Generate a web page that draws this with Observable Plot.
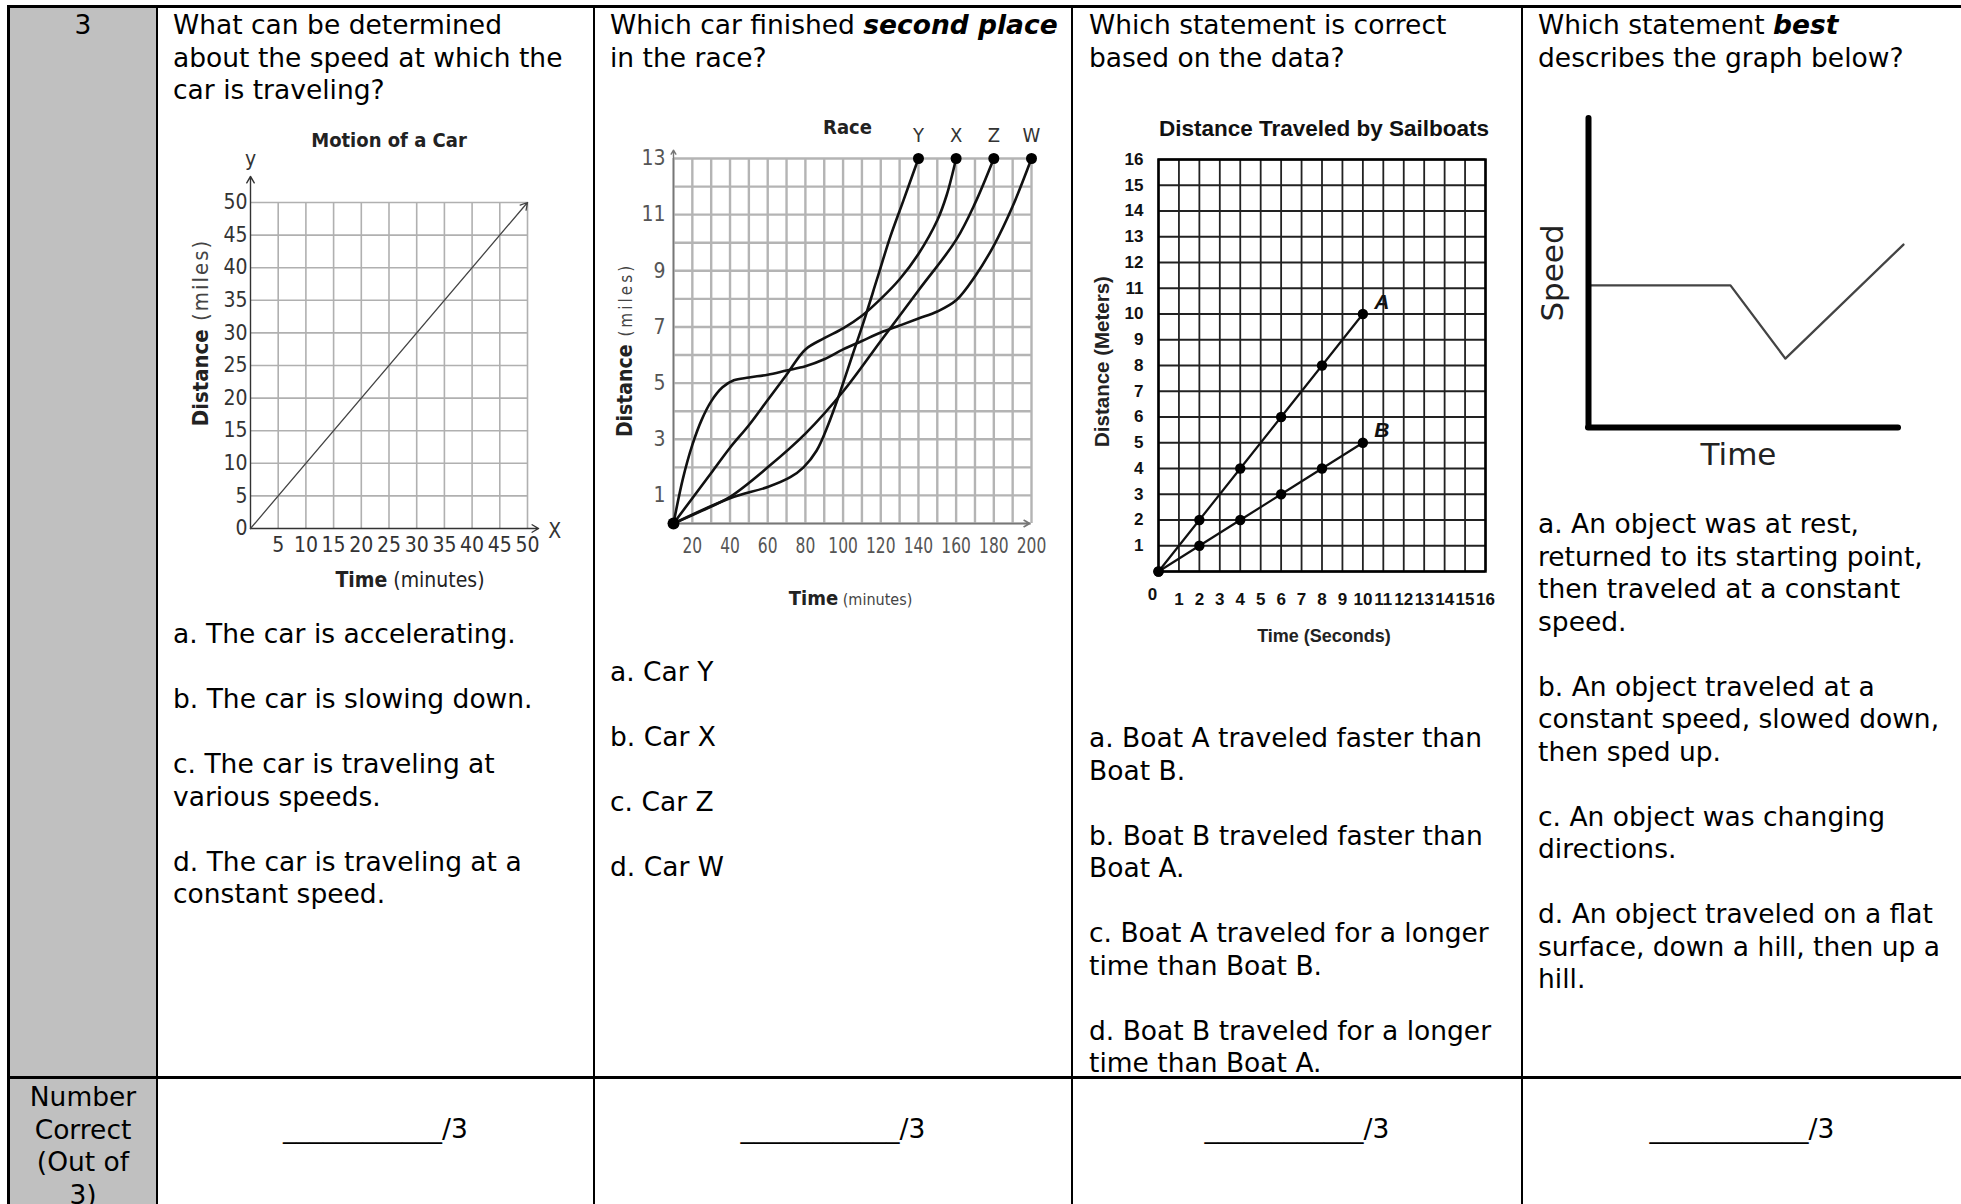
<!DOCTYPE html>
<html><head><meta charset="utf-8">
<script src="https://cdn.jsdelivr.net/npm/d3@7"></script>
<script src="https://cdn.jsdelivr.net/npm/@observablehq/plot@0.6"></script>
<style>
html,body{margin:0;padding:0;background:#fff;}
body{width:1961px;height:1204px;position:relative;overflow:hidden;font-family:"DejaVu Sans",Verdana,sans-serif;color:#000;}
.txt{position:absolute;font-size:26.5px;line-height:32.5px;white-space:pre;}
.rule{position:absolute;background:#000;}
.gray{position:absolute;background:#c0c0c0;}
.chart{position:absolute;}
.chart svg{overflow:visible;}
b i, i b{font-weight:bold;font-style:italic;}
</style></head><body>
<script>
// ---------- Chart 1: Motion of a Car ----------
const carTime = [0, 50];
const carDistance = [0, 50];
const carXTicks = [5,10,15,20,25,30,35,40,45,50];
const carYTicks = [0,5,10,15,20,25,30,35,40,45,50];

// ---------- Chart 2: Race ----------
const raceCars = ["Y","X","Z","W"];
const raceFinish = [140,160,180,200];
const raceYTime = [10,40,60,72,79,86,92,98,105,111,118,125,132,140];
const raceYDist = [0,0.9,1.3,1.65,2.0,2.6,3.5,4.6,6.0,7.2,8.7,10.2,11.5,13];
const raceXTime = [10,20,30,40,50,60,70,80,90,100,110,120,130,140,150,155,160];
const raceXDist = [0,0.9,1.8,2.7,3.5,4.4,5.3,6.2,6.6,6.95,7.4,8.0,8.7,9.6,10.8,11.7,13];
const raceZTime = [10,25,40,60,80,100,120,140,160,170,180];
const raceZDist = [0,0.45,0.95,2.0,3.2,4.7,6.5,8.3,10.1,11.4,13];
const raceWTime = [10,15,20,25,30,36,42,50,60,70,80,90,100,110,120,130,140,150,160,170,180,190,200];
const raceWDist = [0,1.6,2.8,3.7,4.35,4.85,5.1,5.2,5.3,5.45,5.6,5.85,6.2,6.5,6.8,7.05,7.3,7.55,7.95,8.8,9.9,11.3,13];
const raceGridX = [10,20,30,40,50,60,70,80,90,100,110,120,130,140,150,160,170,180,190,200];
const raceGridY = [0,1,2,3,4,5,6,7,8,9,10,11,12,13];
const raceXTicks = [20,40,60,80,100,120,140,160,180,200];
const raceYTicks = [1,3,5,7,9,11,13];

// ---------- Chart 3: Distance Traveled by Sailboats ----------
const boatNames = ["A","B"];
const boatTime = [0,2,4,6,8,10];
const boatADist = [0,2,4,6,8,10];
const boatBDist = [0,1,2,3,4,5];
const boatTicks = [1,2,3,4,5,6,7,8,9,10,11,12,13,14,15,16];
const boatGrid = [0,1,2,3,4,5,6,7,8,9,10,11,12,13,14,15,16];

// ---------- Chart 4: Speed vs Time ----------
const motionTime = [0, 4.58, 6.35, 10.16];
const motionSpeed = [4.6, 4.6, 2.23, 5.92];

const NARROW = '"Liberation Sans Narrow","DejaVu Sans Condensed","Arial Narrow",sans-serif';
const HELV = '"Liberation Sans",Arial,Helvetica,sans-serif';
const VERD = '"DejaVu Sans",Verdana,sans-serif';

function mount(svg, left, top){
  const d = document.createElement("div");
  d.className = "chart"; d.style.left = left+"px"; d.style.top = top+"px";
  d.appendChild(svg); document.body.appendChild(d);
}
function rich(svg, full, parts){
  d3.select(svg).selectAll("text").filter(function(){return this.textContent === full;}).each(function(){
    const t = d3.select(this); t.text(null);
    parts.forEach(p => {
      const s = t.append("tspan").text(p.t);
      if (p.w) s.attr("font-weight", p.w);
      if (p.fill) s.attr("fill", p.fill);
      if (p.size) s.attr("font-size", p.size);
      if (p.ls) s.attr("letter-spacing", p.ls);
    });
  });
}
function squeeze(svg, labels, k){
  const set = new Set(labels.map(String));
  d3.select(svg).selectAll("text").filter(function(){return set.has(this.textContent);}).each(function(){
    const tr = this.getAttribute("transform");
    if (tr) this.setAttribute("transform", tr + ` scale(${k},1)`);
  });
}
const baseStyle = f => ({fontFamily:f, background:"transparent", maxWidth:"none", overflow:"visible"});

// ---- Chart 1
const carLine = [{x1:carTime[0], y1:carDistance[0], x2:carTime[1], y2:carDistance[1]}];
const c1 = Plot.plot({
  width:440, height:490, marginLeft:100, marginRight:63, marginTop:92, marginBottom:72,
  x:{domain:[0,50], axis:null}, y:{domain:[0,50], axis:null},
  style: baseStyle(NARROW),
  marks:[
    Plot.gridX(carXTicks, {stroke:"#b0b0b0", strokeOpacity:1, strokeWidth:1.6}),
    Plot.gridY(carYTicks.slice(1), {stroke:"#b0b0b0", strokeOpacity:1, strokeWidth:1.6}),
    Plot.arrow([{x1:0,y1:0,x2:0,y2:54}], {x1:"x1",y1:"y1",x2:"x2",y2:"y2", stroke:"#333", strokeWidth:1.4, headLength:8}),
    Plot.arrow([{x1:0,y1:0,x2:52,y2:0}], {x1:"x1",y1:"y1",x2:"x2",y2:"y2", stroke:"#333", strokeWidth:1.4, headLength:8}),
    Plot.arrow(carLine, {x1:"x1",y1:"y1",x2:"x2",y2:"y2", stroke:"#444", strokeWidth:1.3, headLength:9}),
    Plot.axisY(carYTicks, {tickSize:0, tickPadding:3, fontSize:21, fill:"#333", label:null}),
    Plot.axisX(carXTicks, {tickSize:0, tickPadding:9, fontSize:21, fill:"#333", label:null}),
    Plot.text(["y"], {x:0, y:56.6, text:d=>d, fontSize:21, fill:"#333"}),
    Plot.text(["X"], {x:54.9, y:0, text:d=>d, fontSize:21, fill:"#333", dy:3}),
    Plot.text(["Motion of a Car"], {frameAnchor:"top", lineAnchor:"middle", text:d=>d, dy:-62, fontSize:20, fontWeight:"bold", fill:"#222"}),
    Plot.text(["Time (minutes)"], {frameAnchor:"bottom", lineAnchor:"middle", text:d=>d, dx:21, dy:52, fontSize:21, fill:"#222"}),
    Plot.text(["Distance (miles)"], {frameAnchor:"left", textAnchor:"middle", text:d=>d, dx:-50, dy:-33, rotate:-90, fontSize:22, fill:"#222"})
  ]
});
rich(c1, "Time (minutes)", [{t:"Time", w:"bold"}, {t:" (minutes)"}]);
rich(c1, "Distance (miles)", [{t:"Distance", w:"bold"}, {t:" (miles)", fill:"#444", ls:"2px"}]);
mount(c1, 150, 110);

// ---- Chart 2
const raceSeries = [[raceYTime, raceYDist],[raceXTime, raceXDist],[raceZTime, raceZDist],[raceWTime, raceWDist]];
const raceRows = raceCars.flatMap((car,i) => raceSeries[i][0].map((t,j) => ({car, t, d: raceSeries[i][1][j]})));
const raceEnds = raceCars.map((car,i) => ({car, t: raceFinish[i], d: 13}));
const c2 = Plot.plot({
  width:480, height:525, marginLeft:83, marginRight:39, marginTop:63, marginBottom:97,
  x:{domain:[10,200], axis:null}, y:{domain:[0,13], axis:null},
  style: baseStyle(NARROW),
  marks:[
    Plot.gridX(raceGridX, {stroke:"#b4b4b4", strokeOpacity:1, strokeWidth:2.4}),
    Plot.gridY(raceGridY, {stroke:"#b4b4b4", strokeOpacity:1, strokeWidth:2.4}),
    Plot.arrow([{x1:10,y1:0,x2:10,y2:13.3}], {x1:"x1",y1:"y1",x2:"x2",y2:"y2", stroke:"#777", strokeWidth:1.4, headLength:5}),
    Plot.arrow([{x1:10,y1:0,x2:199,y2:0}], {x1:"x1",y1:"y1",x2:"x2",y2:"y2", stroke:"#777", strokeWidth:1.6, headLength:6}),
    Plot.line(raceRows, {x:"t", y:"d", z:"car", curve:"catmull-rom", stroke:"#111", strokeWidth:2.6}),
    Plot.dot(raceEnds, {x:"t", y:"d", r:5.5, fill:"#000"}),
    Plot.dot([raceRows[0]], {x:"t", y:"d", r:6, fill:"#000"}),
    Plot.text(raceEnds, {x:"t", y:"d", text:"car", dy:-23, fontSize:20, fill:"#333"}),
    Plot.axisY(raceYTicks, {tickSize:0, tickPadding:8, fontSize:21, fill:"#555", label:null}),
    Plot.axisX(raceXTicks, {tickSize:0, tickPadding:15, fontSize:21, fill:"#555", label:null}),
    Plot.text(["Race"], {frameAnchor:"top", lineAnchor:"middle", text:d=>d, dx:-5, dy:-31, fontSize:20, fontWeight:"bold", fill:"#222"}),
    Plot.text(["Time (minutes)"], {frameAnchor:"bottom", lineAnchor:"middle", text:d=>d, dx:-2, dy:75, fontSize:20, fill:"#222"}),
    Plot.text(["Distance (miles)"], {frameAnchor:"left", textAnchor:"middle", text:d=>d, dx:-48, dy:9, rotate:-90, fontSize:21, fill:"#222"})
  ]
});
rich(c2, "Time (minutes)", [{t:"Time", w:"bold"}, {t:" (minutes)", size:16, fill:"#444"}]);
rich(c2, "Distance (miles)", [{t:"Distance", w:"bold"}, {t:" (miles)", size:17, fill:"#444", ls:"3px"}]);
squeeze(c2, raceXTicks, 0.82);
mount(c2, 590, 95);

// ---- Chart 3
const boatRows = boatNames.flatMap((b,i) => boatTime.map((t,j) => ({boat:b, t, d: (i===0?boatADist:boatBDist)[j]})));
const boatLabels = boatNames.map((b,i) => ({boat:b, t: boatTime[boatTime.length-1], d: (i===0?boatADist:boatBDist)[boatTime.length-1]}));
const c3 = Plot.plot({
  width:440, height:560, marginLeft:83, marginRight:30, marginTop:59, marginBottom:89,
  x:{domain:[0,16], axis:null}, y:{domain:[0,16], axis:null},
  style: baseStyle(HELV),
  marks:[
    Plot.gridX(boatGrid, {stroke:"#222", strokeOpacity:1, strokeWidth:1.8}),
    Plot.gridY(boatGrid, {stroke:"#222", strokeOpacity:1, strokeWidth:1.8}),
    Plot.frame({stroke:"#000", strokeWidth:2.5}),
    Plot.line(boatRows, {x:"t", y:"d", z:"boat", stroke:"#111", strokeWidth:2.2}),
    Plot.dot(boatRows, {x:"t", y:"d", r:5.2, fill:"#000"}),
    Plot.text(boatLabels, {x:"t", y:"d", text:"boat", dx:19, dy:-12, fontSize:21, fontWeight:"bold", fontStyle:"italic", fill:"#111"}),
    Plot.axisY(boatTicks, {tickSize:0, tickPadding:15, fontSize:17, fontWeight:"bold", fill:"#111", label:null}),
    Plot.axisX(boatTicks, {tickSize:0, tickPadding:21, fontSize:17, fontWeight:"bold", fill:"#111", label:null}),
    Plot.text([0], {x:0, y:0, text:d=>String(d), dx:-6, dy:23, fontSize:17, fontWeight:"bold", fill:"#111"}),
    Plot.text(["Distance Traveled by Sailboats"], {frameAnchor:"top", lineAnchor:"middle", text:d=>d, dx:2, dy:-31, fontSize:22.5, fontWeight:"bold", fill:"#111"}),
    Plot.text(["Time (Seconds)"], {frameAnchor:"bottom", lineAnchor:"middle", text:d=>d, dx:2, dy:65, fontSize:18, fontWeight:"bold", fill:"#222"}),
    Plot.text(["Distance (Meters)"], {frameAnchor:"left", textAnchor:"middle", text:d=>d, dx:-56, dy:-4, rotate:-90, fontSize:20.5, fontWeight:"bold", fill:"#222"})
  ]
});
mount(c3, 1075, 100);

// ---- Chart 4
const motionRows = motionTime.map((t,i) => ({t, s: motionSpeed[i]}));
const c4 = Plot.plot({
  width:436, height:380, marginLeft:63, marginRight:63, marginTop:18, marginBottom:53,
  x:{domain:[0,10], axis:null}, y:{domain:[0,10], axis:null},
  style: baseStyle(VERD),
  marks:[
    Plot.line(motionRows, {x:"t", y:"s", stroke:"#444", strokeWidth:2.3}),
    Plot.ruleX([0], {y1:0, y2:10, stroke:"#000", strokeWidth:6, strokeLinecap:"round"}),
    Plot.ruleY([0], {x1:0, x2:10, stroke:"#000", strokeWidth:6, strokeLinecap:"round"}),
    Plot.text(["Speed"], {frameAnchor:"left", textAnchor:"middle", text:d=>d, dx:-35, rotate:-90, fontSize:31, fill:"#222"}),
    Plot.text(["Time"], {frameAnchor:"bottom", lineAnchor:"middle", text:d=>d, dx:-5, dy:28, fontSize:31, fill:"#222"})
  ]
});
mount(c4, 1525, 100);

// ---------- Table and text ----------
function el(cls, style, html){
  const d = document.createElement("div"); d.className = cls;
  Object.assign(d.style, style); if (html !== undefined) d.innerHTML = html;
  document.body.appendChild(d); return d;
}
el("gray", {left:"10px", top:"8px", width:"146px", height:"1200px"});
el("rule", {left:"7px", top:"5px", width:"1954px", height:"3px"});
el("rule", {left:"7px", top:"1076px", width:"1954px", height:"3px"});
el("rule", {left:"7px", top:"5px", width:"3px", height:"1199px"});
[156, 593, 1071, 1521].forEach(x => el("rule", {left:x+"px", top:"5px", width:"2px", height:"1199px"}));

el("txt", {left:"10px", width:"146px", top:"9px", textAlign:"center"}, "3");
el("txt", {left:"173px", top:"9px"}, "What can be determined\nabout the speed at which the\ncar is traveling?");
el("txt", {left:"610px", top:"9px"}, "Which car finished <b><i>second place</i></b>\nin the race?");
el("txt", {left:"1089px", top:"9px"}, "Which statement is correct\nbased on the data?");
el("txt", {left:"1538px", top:"9px"}, "Which statement <b><i>best</i></b>\ndescribes the graph below?");

el("txt", {left:"173px", top:"618px"}, "a. The car is accelerating.\n\nb. The car is slowing down.\n\nc. The car is traveling at\nvarious speeds.\n\nd. The car is traveling at a\nconstant speed.");
el("txt", {left:"610px", top:"656px"}, "a. Car Y\n\nb. Car X\n\nc. Car Z\n\nd. Car W");
el("txt", {left:"1089px", top:"722px"}, "a. Boat A traveled faster than\nBoat B.\n\nb. Boat B traveled faster than\nBoat A.\n\nc. Boat A traveled for a longer\ntime than Boat B.\n\nd. Boat B traveled for a longer\ntime than Boat A.");
el("txt", {left:"1538px", top:"508px"}, "a. An object was at rest,\nreturned to its starting point,\nthen traveled at a constant\nspeed.\n\nb. An object traveled at a\nconstant speed, slowed down,\nthen sped up.\n\nc. An object was changing\ndirections.\n\nd. An object traveled on a flat\nsurface, down a hill, then up a\nhill.");

el("txt", {left:"10px", width:"146px", top:"1081px", textAlign:"center"}, "Number\nCorrect\n(Out of\n3)");
[[158,593],[595,1071],[1073,1521],[1523,1961]].forEach(([a,b]) =>
  el("txt", {left:a+"px", width:(b-a)+"px", top:"1113px", textAlign:"center"}, "____________/3"));
</script>
</body></html>
